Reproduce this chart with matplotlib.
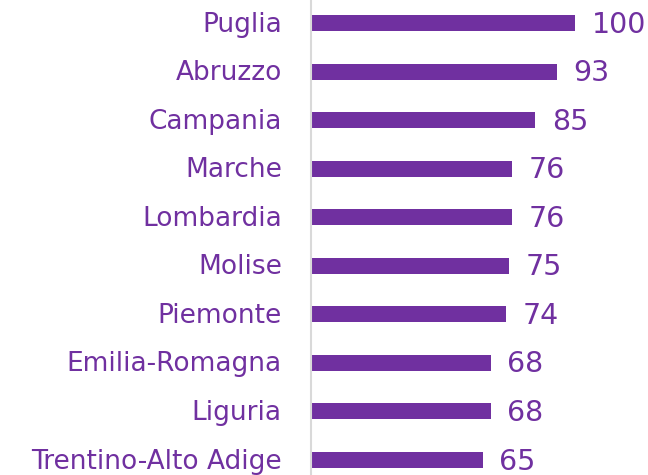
import matplotlib
matplotlib.use("Agg")
import matplotlib.pyplot as plt
from matplotlib.transforms import ScaledTranslation

regions = ["Puglia", "Abruzzo", "Campania", "Marche", "Lombardia", "Molise",
           "Piemonte", "Emilia-Romagna", "Liguria", "Trentino-Alto Adige"]
values = [100, 93, 85, 76, 76, 75, 74, 68, 68, 65]

purple = "#7030A0"
plt.rcParams['font.family'] = ['DejaVu Sans']

fig = plt.figure(figsize=(6.48, 4.75), dpi=100)
ax = fig.add_axes([311/648, 0, 337/648, 1])
y = list(range(len(regions)))
ax.barh(y, values, height=0.33, color=purple)
ax.set_xlim(0, 337/264*100)
ax.set_ylim(9.308, -0.4737)
shift = ScaledTranslation(0, 1.5/100, fig.dpi_scale_trans)
for yi, v in zip(y, values):
    ax.text(v + 6.3, yi, str(v), va='center_baseline', ha='left', color=purple,
            fontsize=20.5, transform=ax.transData + shift)
ax.set_yticks(y)
ax.set_yticklabels(regions, color=purple, fontsize=19)
ax.tick_params(axis='y', length=0, pad=21)
for lbl in ax.get_yticklabels():
    lbl.set_transform(lbl.get_transform() + shift)
ax.set_xticks([])
for s in ['top', 'right', 'bottom']:
    ax.spines[s].set_visible(False)
ax.spines['left'].set_color('#d9d9d9')
ax.spines['left'].set_linewidth(1.5)
fig.savefig("out.png", dpi=100)
